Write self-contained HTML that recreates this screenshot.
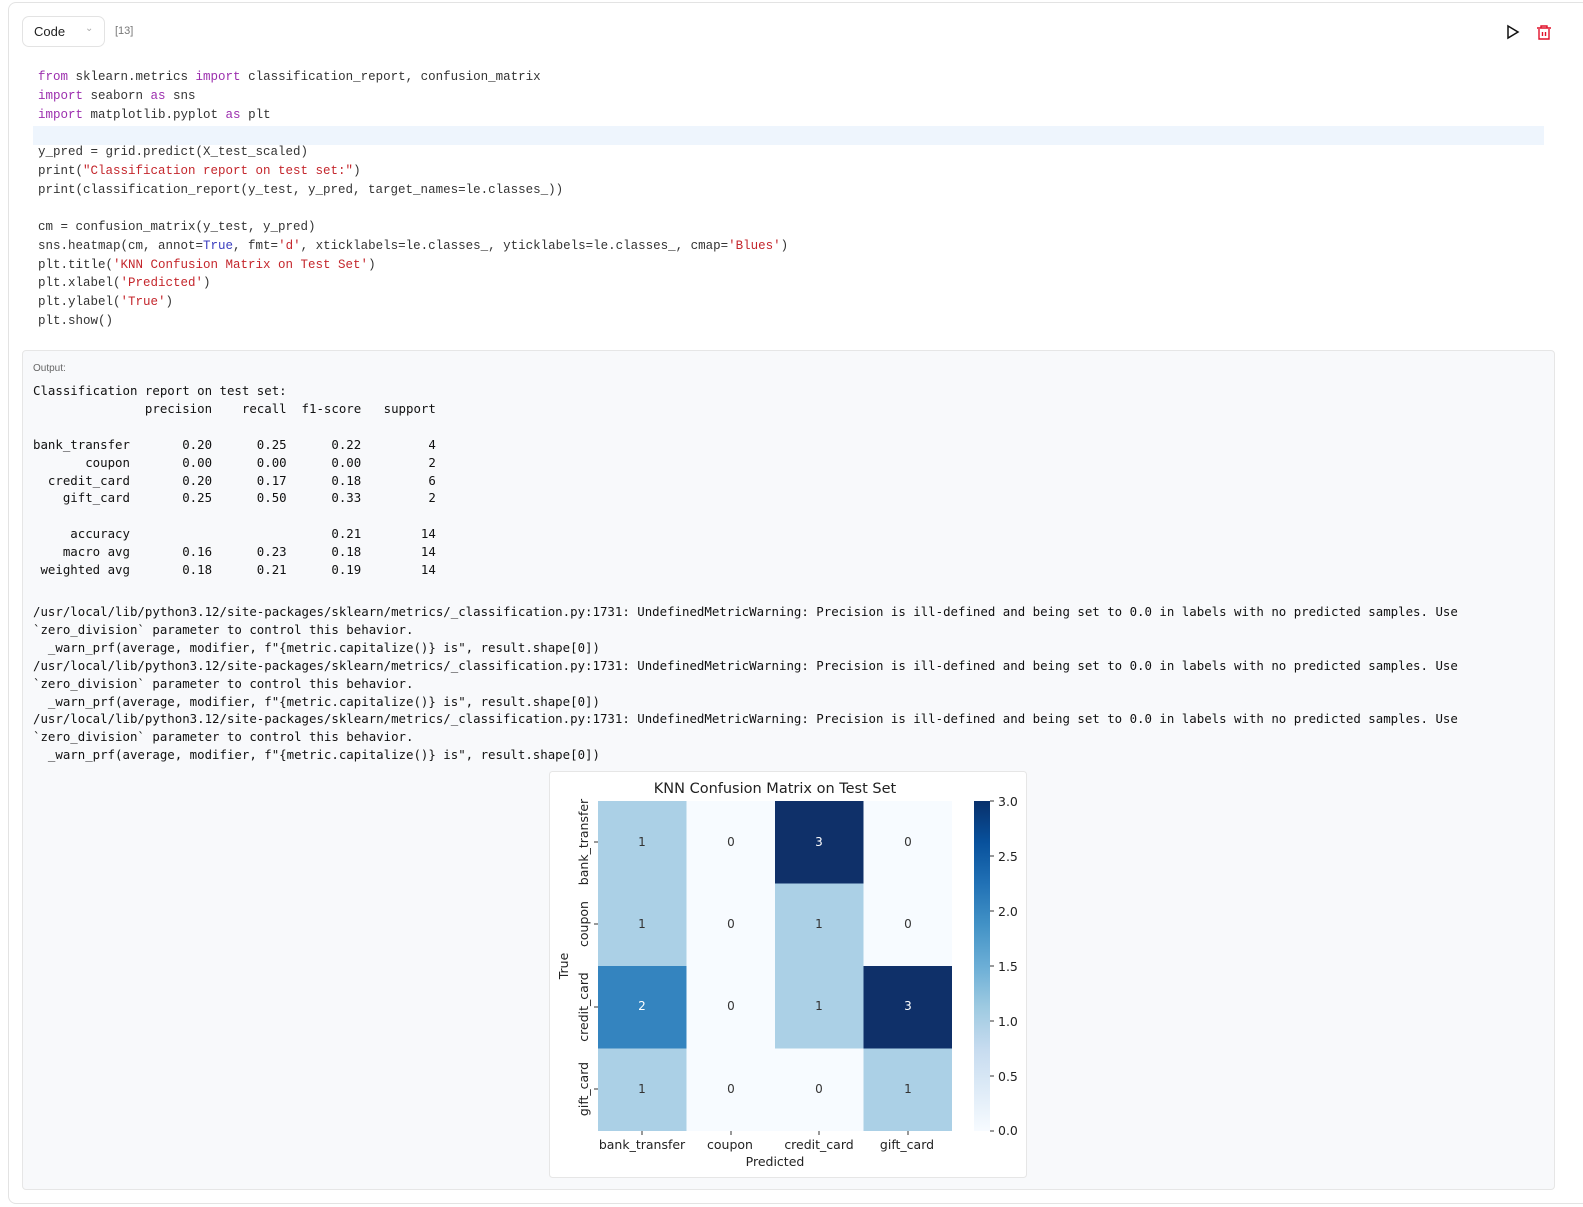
<!DOCTYPE html>
<html><head><meta charset="utf-8"><style>
body{margin:0;width:1583px;height:1207px;background:#fff;position:relative;overflow:hidden;font-family:"Liberation Sans",sans-serif}
.cell{position:absolute;left:8px;top:2px;width:1580px;height:1200px;border:1px solid #e3e3e3;border-radius:8px;background:#fff}
.sel{position:absolute;left:22px;top:16px;width:83px;height:31px;border:1px solid #e3e3e3;border-radius:7px;box-sizing:border-box;font-size:13px;color:#222}
pre{margin:0;position:absolute;white-space:pre}
.code{left:38px;top:68px;font-family:"Liberation Mono",monospace;font-size:12.5px;line-height:18.75px;color:#333}
.k{color:#9c2fae}.s{color:#c4262c}.b{color:#3a3dbf}
.out{position:absolute;left:22px;top:350px;width:1533px;height:840px;background:#f8f9fb;border:1px solid #e6e6e6;border-radius:4px;box-sizing:border-box}
.o{font-family:"DejaVu Sans Mono",monospace;font-size:12.4px;line-height:17.9px;color:#111;left:33px}
</style></head><body>
<div class="cell"></div>
<div class="sel"><span style="position:absolute;left:11px;top:7px">Code</span><span style="position:absolute;left:62px;top:6px;color:#aaa;font-size:10px">&#8964;</span></div>
<div style="position:absolute;left:115px;top:25px;font-size:11px;color:#777">[13]</div>
<svg style="position:absolute;left:1505px;top:24px" width="50" height="18"><path d="M3 2 L13 8 L3 14 Z" fill="none" stroke="#111" stroke-width="1.5"/><g stroke="#e0102a" stroke-width="1.4" fill="none"><path d="M32 4 H46 M36 4 V2 H42 V4 M34 5 V15 H44 V5 M37.5 8 V12 M40.5 8 V12"/></g></svg>
<div style="position:absolute;left:33px;top:126px;width:1511px;height:19px;background:#eef5fd"></div>
<pre class="code"><span class="k">from</span> sklearn.metrics <span class="k">import</span> classification_report, confusion_matrix
<span class="k">import</span> seaborn <span class="k">as</span> sns
<span class="k">import</span> matplotlib.pyplot <span class="k">as</span> plt

y_pred = grid.predict(X_test_scaled)
print(<span class="s">"Classification report on test set:"</span>)
print(classification_report(y_test, y_pred, target_names=le.classes_))

cm = confusion_matrix(y_test, y_pred)
sns.heatmap(cm, annot=<span class="b">True</span>, fmt=<span class="s">'d'</span>, xticklabels=le.classes_, yticklabels=le.classes_, cmap=<span class="s">'Blues'</span>)
plt.title(<span class="s">'KNN Confusion Matrix on Test Set'</span>)
plt.xlabel(<span class="s">'Predicted'</span>)
plt.ylabel(<span class="s">'True'</span>)
plt.show()</pre>
<div class="out"></div>
<div style="position:absolute;left:33px;top:363px;font-size:10px;color:#666">Output:</div>
<pre class="o" style="top:382px">Classification report on test set:
               precision    recall  f1-score   support

bank_transfer       0.20      0.25      0.22         4
       coupon       0.00      0.00      0.00         2
  credit_card       0.20      0.17      0.18         6
    gift_card       0.25      0.50      0.33         2

     accuracy                           0.21        14
    macro avg       0.16      0.23      0.18        14
 weighted avg       0.18      0.21      0.19        14
</pre>
<pre class="o" style="top:603px">/usr/local/lib/python3.12/site-packages/sklearn/metrics/_classification.py:1731: UndefinedMetricWarning: Precision is ill-defined and being set to 0.0 in labels with no predicted samples. Use
`zero_division` parameter to control this behavior.
  _warn_prf(average, modifier, f"{metric.capitalize()} is", result.shape[0])
/usr/local/lib/python3.12/site-packages/sklearn/metrics/_classification.py:1731: UndefinedMetricWarning: Precision is ill-defined and being set to 0.0 in labels with no predicted samples. Use
`zero_division` parameter to control this behavior.
  _warn_prf(average, modifier, f"{metric.capitalize()} is", result.shape[0])
/usr/local/lib/python3.12/site-packages/sklearn/metrics/_classification.py:1731: UndefinedMetricWarning: Precision is ill-defined and being set to 0.0 in labels with no predicted samples. Use
`zero_division` parameter to control this behavior.
  _warn_prf(average, modifier, f"{metric.capitalize()} is", result.shape[0])</pre>
<svg style="position:absolute;left:0;top:0" width="1583" height="1207" font-family="DejaVu Sans, sans-serif">
<defs><linearGradient id="cb" x1="0" y1="1" x2="0" y2="0">
<stop offset="0" stop-color="#f7fbff"/><stop offset="0.125" stop-color="#deebf7"/><stop offset="0.25" stop-color="#c6dbef"/><stop offset="0.375" stop-color="#9ecae1"/><stop offset="0.5" stop-color="#6baed6"/><stop offset="0.625" stop-color="#4292c6"/><stop offset="0.75" stop-color="#2171b5"/><stop offset="0.875" stop-color="#08519c"/><stop offset="1" stop-color="#08306b"/></linearGradient></defs>
<rect x="549.5" y="771.5" width="477" height="406" fill="#fff" stroke="#e6e6e6" rx="3"/>
<text x="775" y="793" font-size="14.5" text-anchor="middle" fill="#222">KNN Confusion Matrix on Test Set</text>
<g>
<rect x="598" y="801" width="88.5" height="82.5" fill="#abd0e6"/><rect x="686.5" y="801" width="88.5" height="82.5" fill="#f7fbff"/><rect x="775" y="801" width="88.5" height="82.5" fill="#0f3069"/><rect x="863.5" y="801" width="88.5" height="82.5" fill="#f7fbff"/>
<rect x="598" y="883.5" width="88.5" height="82.5" fill="#abd0e6"/><rect x="686.5" y="883.5" width="88.5" height="82.5" fill="#f7fbff"/><rect x="775" y="883.5" width="88.5" height="82.5" fill="#abd0e6"/><rect x="863.5" y="883.5" width="88.5" height="82.5" fill="#f7fbff"/>
<rect x="598" y="966" width="88.5" height="82.5" fill="#3484bf"/><rect x="686.5" y="966" width="88.5" height="82.5" fill="#f7fbff"/><rect x="775" y="966" width="88.5" height="82.5" fill="#abd0e6"/><rect x="863.5" y="966" width="88.5" height="82.5" fill="#0f3069"/>
<rect x="598" y="1048.5" width="88.5" height="82.5" fill="#abd0e6"/><rect x="686.5" y="1048.5" width="88.5" height="82.5" fill="#f7fbff"/><rect x="775" y="1048.5" width="88.5" height="82.5" fill="#f7fbff"/><rect x="863.5" y="1048.5" width="88.5" height="82.5" fill="#abd0e6"/>
</g>
<g font-size="12" text-anchor="middle" fill="#333">
<text x="642" y="846">1</text><text x="731" y="846">0</text><text x="819" y="846" fill="#fff">3</text><text x="908" y="846">0</text>
<text x="642" y="928">1</text><text x="731" y="928">0</text><text x="819" y="928">1</text><text x="908" y="928">0</text>
<text x="642" y="1010" fill="#fff">2</text><text x="731" y="1010">0</text><text x="819" y="1010">1</text><text x="908" y="1010" fill="#fff">3</text>
<text x="642" y="1093">1</text><text x="731" y="1093">0</text><text x="819" y="1093">0</text><text x="908" y="1093">1</text>
</g>
<g stroke="#333" stroke-width="1">
<path d="M642 1131v4M731 1131v4M819 1131v4M908 1131v4M598 842h-4M598 924h-4M598 1007h-4M598 1089h-4"/>
</g>
<g font-size="12.5" fill="#222" text-anchor="middle">
<text x="642" y="1149">bank_transfer</text><text x="730" y="1149">coupon</text><text x="819" y="1149">credit_card</text><text x="907" y="1149">gift_card</text>
<text x="775" y="1166">Predicted</text>
<text transform="translate(588,842) rotate(-90)">bank_transfer</text>
<text transform="translate(588,924) rotate(-90)">coupon</text>
<text transform="translate(588,1007) rotate(-90)">credit_card</text>
<text transform="translate(588,1089) rotate(-90)">gift_card</text>
<text transform="translate(568,966) rotate(-90)">True</text>
</g>
<rect x="974" y="801" width="16" height="330" fill="url(#cb)"/>
<g stroke="#333"><path d="M990 801h4M990 856h4M990 911h4M990 966h4M990 1021h4M990 1076h4M990 1131h4"/></g>
<g font-size="12.5" fill="#222">
<text x="998" y="806">3.0</text><text x="998" y="861">2.5</text><text x="998" y="916">2.0</text><text x="998" y="971">1.5</text><text x="998" y="1026">1.0</text><text x="998" y="1081">0.5</text><text x="998" y="1135">0.0</text>
</g>
</svg>
</body></html>
